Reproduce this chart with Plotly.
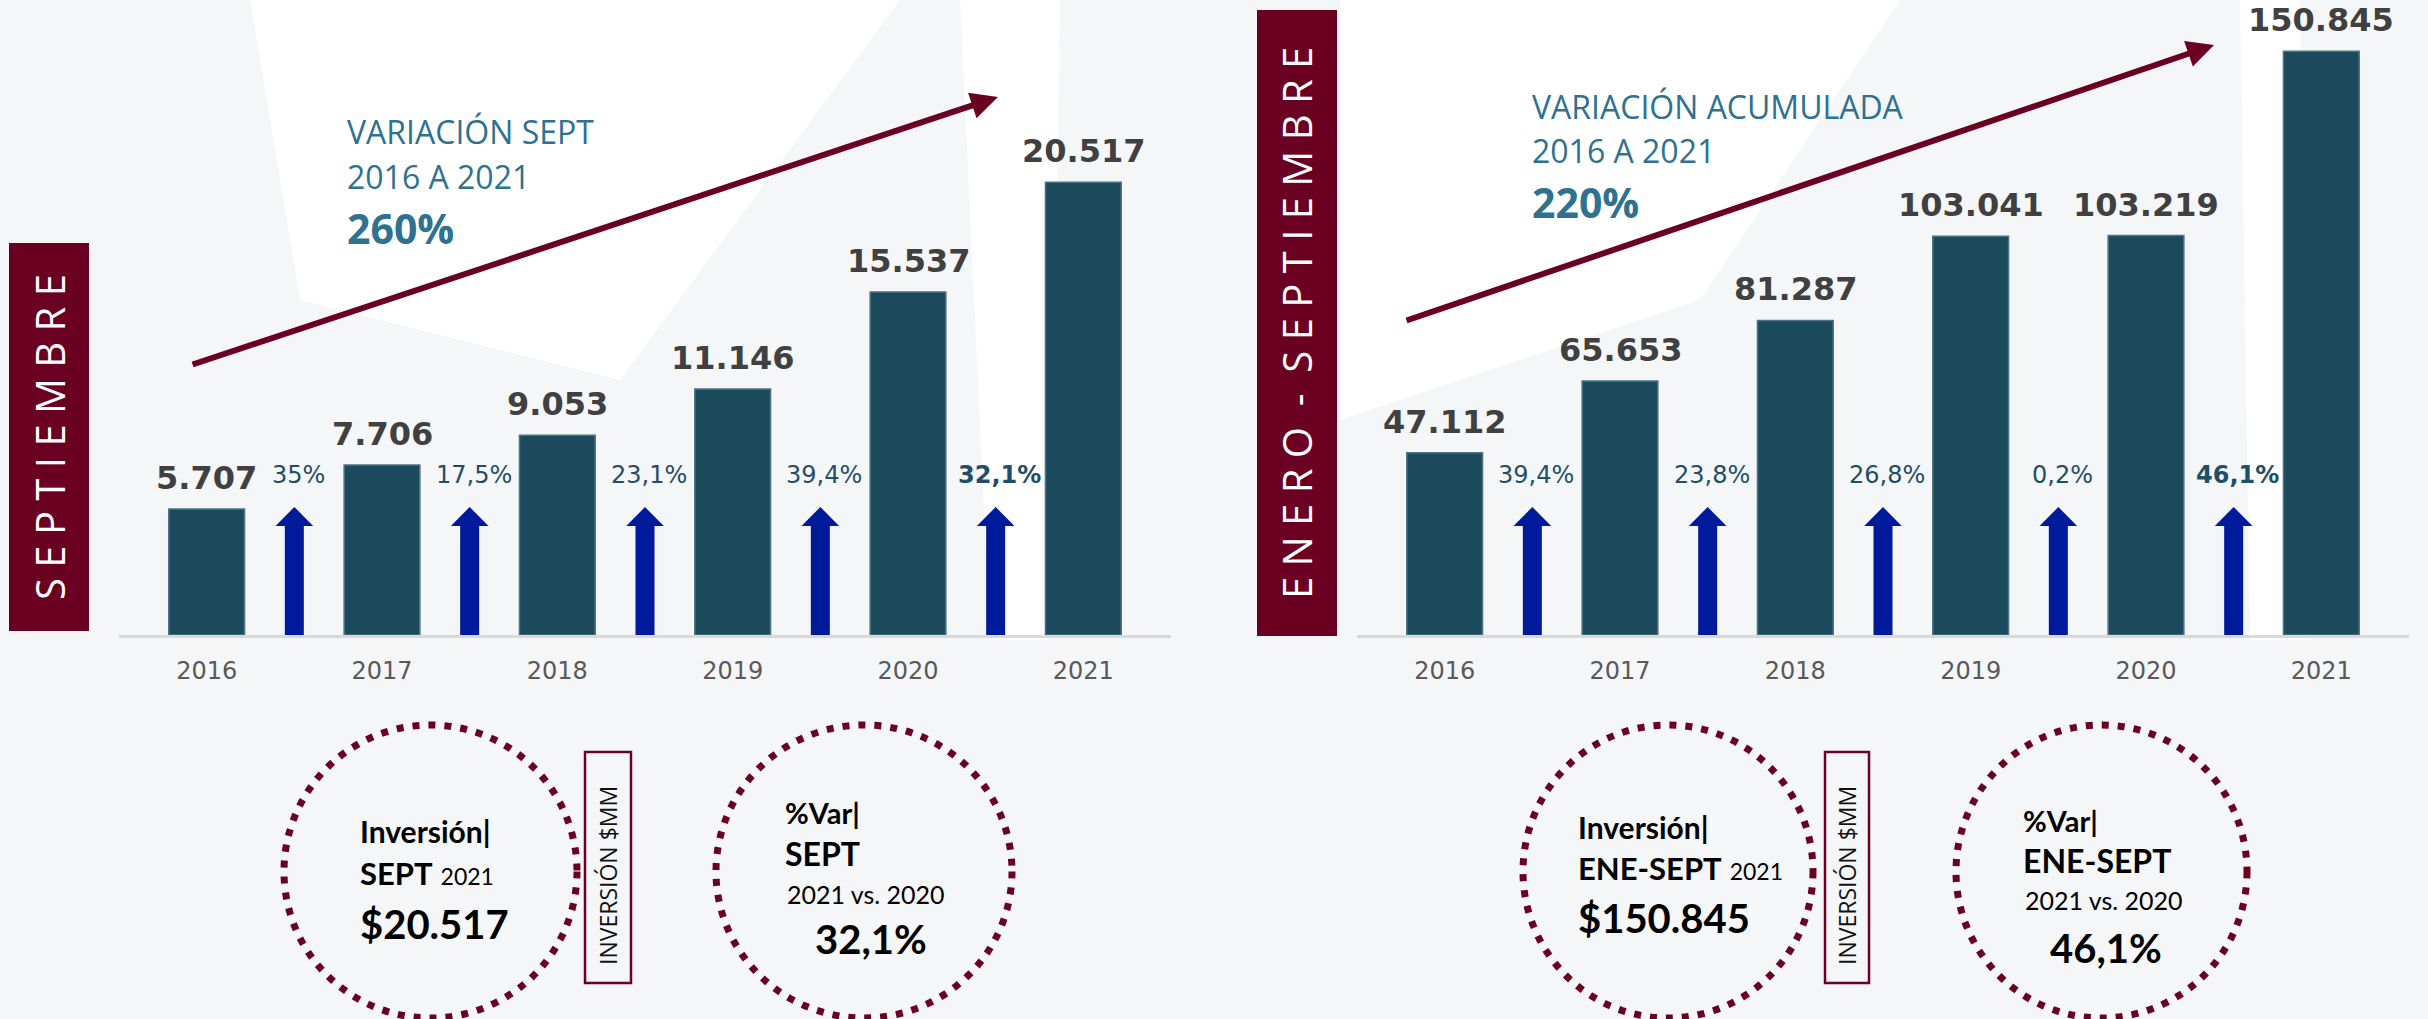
import plotly.graph_objects as go

W, H = 2428, 1019

# ---------------- data ----------------
years = ["2016", "2017", "2018", "2019", "2020", "2021"]
sept_values = [5707, 7706, 9053, 11146, 15537, 20517]
sept_labels = ["5.707", "7.706", "9.053", "11.146", "15.537", "20.517"]
sept_pct = ["35%", "17,5%", "23,1%", "39,4%", "32,1%"]
acum_values = [47112, 65653, 81287, 103041, 103219, 150845]
acum_labels = ["47.112", "65.653", "81.287", "103.041", "103.219", "150.845"]
acum_pct = ["39,4%", "23,8%", "26,8%", "0,2%", "46,1%"]
bold_pct_index = 4

left_title = ["VARIACIÓN SEPT", "2016 A 2021", "260%"]
right_title = ["VARIACIÓN ACUMULADA", "2016 A 2021", "220%"]

# ---------------- styles ----------------
MAROON = "#6A0022"
BAR = "#1B4A5D"
BLUE = "#001A9C"
TEAL = "#2E7190"
LABEL = "#404040"
PCT = "#1F4E66"

def px(x):
    return x / W

def py(y):
    return 1 - y / H

BASE = 635
L_DOM = (119, 1171)
R_DOM = (1357, 2409)
L_YMAX = 28772
R_YMAX = 164083
XRANGE = (-0.5, 5.5)
x_ppu = (L_DOM[1] - L_DOM[0]) / (XRANGE[1] - XRANGE[0])

fig = go.Figure()

fig.add_trace(go.Bar(x=list(range(6)), y=sept_values, width=0.432,
                     marker=dict(color=BAR, line=dict(color="#4d7385", width=1.5)),
                     xaxis="x", yaxis="y", hoverinfo="skip"))
fig.add_trace(go.Bar(x=list(range(6)), y=acum_values, width=0.432,
                     marker=dict(color=BAR, line=dict(color="#4d7385", width=1.5)),
                     xaxis="x2", yaxis="y2", hoverinfo="skip"))

axis_common = dict(range=list(XRANGE), tickmode="array", tickvals=list(range(6)), ticktext=years,
                   showline=True, linecolor="#d9d9d9", linewidth=3, ticks="", showgrid=False,
                   zeroline=False, fixedrange=True, ticklabelstandoff=12,
                   tickfont=dict(family="DejaVu Sans", size=24, color="#595959"))
fig.update_layout(
    width=W, height=H, autosize=False,
    margin=dict(l=0, r=0, t=0, b=0),
    paper_bgcolor="#f5f6f8", plot_bgcolor="rgba(0,0,0,0)",
    showlegend=False, bargap=0,
    xaxis=dict(domain=[px(L_DOM[0]), px(L_DOM[1])], anchor="y", **axis_common),
    xaxis2=dict(domain=[px(R_DOM[0]), px(R_DOM[1])], anchor="y2", **axis_common),
    yaxis=dict(domain=[py(BASE), 1], range=[0, L_YMAX], visible=False, fixedrange=True),
    yaxis2=dict(domain=[py(BASE), 1], range=[0, R_YMAX], visible=False, fixedrange=True, anchor="x2"),
)

shapes = []
annotations = []

# background watermark (white bands)
wm = [
    [(250, 0), (900, 0), (620, 380), (300, 300)],
    [(1340, 0), (1900, 0), (1700, 300), (1340, 420)],
    [(960, 0), (1060, 0), (1050, 640), (990, 640)],
    [(2240, 0), (2300, 0), (2310, 640), (2250, 640)],
]
for poly in wm:
    path = "M " + " L ".join(f"{px(a)},{py(b)}" for a, b in poly) + " Z"
    shapes.append(dict(type="path", path=path, xref="paper", yref="paper",
                       fillcolor="#ffffff", line=dict(width=0), layer="below"))

def panel(values, labels, pcts, xa, ya, ymax, title, title_x, title_ys, arrow_pts):
    y_ppu = BASE / ymax
    for i, (v, lab) in enumerate(zip(values, labels)):
        annotations.append(dict(x=i, y=v, xref=xa, yref=ya, text=f"<b>{lab}</b>", showarrow=False,
                                yanchor="bottom", yshift=10,
                                font=dict(family="DejaVu Sans", size=32, color=LABEL)))
    tip_h, head_h = 128, 109
    shaft_hw, head_hw = 9.5 / x_ppu, 18.8 / x_ppu
    for i, p in enumerate(pcts):
        xc = i + 0.5
        yt, yh = tip_h / y_ppu, head_h / y_ppu
        path = (f"M {xc - shaft_hw},0 L {xc - shaft_hw},{yh} L {xc - head_hw},{yh} L {xc},{yt} "
                f"L {xc + head_hw},{yh} L {xc + shaft_hw},{yh} L {xc + shaft_hw},0 Z")
        shapes.append(dict(type="path", path=path, xref=xa, yref=ya, fillcolor=BLUE, line=dict(width=0)))
        txt = f"<b>{p}</b>" if i == bold_pct_index else p
        annotations.append(dict(x=xc, y=160 / y_ppu, xref=xa, yref=ya, text=txt, showarrow=False,
                                xshift=4, yanchor="middle",
                                font=dict(family="DejaVu Sans", size=24, color=PCT)))
    (x0, y0), (x1, y1) = arrow_pts
    annotations.append(dict(x=x1, y=y1, ax=x0, ay=y0, xref=xa, yref=ya, axref=xa, ayref=ya,
                            text="", showarrow=True, arrowhead=2, arrowsize=0.9, arrowwidth=6,
                            arrowcolor=MAROON, standoff=0, startstandoff=0))
    sizes = [32, 32, 41]
    for j, t in enumerate(title):
        txt = f"<b>{t}</b>" if j == 2 else t
        annotations.append(dict(x=px(title_x), y=py(title_ys[j]), xref="paper", yref="paper",
                                text=txt, showarrow=False, xanchor="left", yanchor="middle",
                                font=dict(family="Open Sans", size=sizes[j], color=TEAL)))

panel(sept_values, sept_labels, sept_pct, "x", "y", L_YMAX, left_title, 345, [132, 176, 228],
      [(-0.089, 12234), (4.513, 24377)])
panel(acum_values, acum_labels, acum_pct, "x2", "y2", R_YMAX, right_title, 1530, [106, 150, 202],
      [(-0.226, 81137), (4.388, 152455)])

# vertical boxes
def vbox(x0, x1, y0, y1, text):
    shapes.append(dict(type="rect", xref="paper", yref="paper", x0=px(x0), x1=px(x1), y0=py(y1), y1=py(y0),
                       fillcolor=MAROON, line=dict(width=0)))
    annotations.append(dict(x=px((x0 + x1) / 2), y=py((y0 + y1) / 2), xref="paper", yref="paper",
                            text=text, textangle=-90, showarrow=False, xanchor="center", yanchor="middle",
                            font=dict(family="Open Sans", size=40, color="white")))

vbox(9, 89, 243, 631, "S E P T I E M B R E")
vbox(1257, 1337, 10, 636, "E N E R O  -  S E P T I E M B R E")

# circles
for (x0, x1) in [(284, 577), (716, 1012), (1523, 1813), (1956, 2247)]:
    shapes.append(dict(type="circle", xref="paper", yref="paper", x0=px(x0), x1=px(x1),
                       y0=py(1018), y1=py(725),
                       line=dict(color=MAROON, width=7, dash="7px,9px")))

# INVERSIÓN $MM boxes
for (x0, x1) in [(585, 631), (1825, 1869)]:
    shapes.append(dict(type="rect", xref="paper", yref="paper", x0=px(x0), x1=px(x1),
                       y0=py(983), y1=py(752), line=dict(color=MAROON, width=2.5), fillcolor="rgba(0,0,0,0)"))
    annotations.append(dict(x=px((x0 + x1) / 2), y=py(876), xref="paper", yref="paper",
                            text="INVERSIÓN $MM", textangle=-90, showarrow=False,
                            xanchor="center", yanchor="middle",
                            font=dict(family="Open Sans", size=23, color="#111111")))

def txt(x, y, text, size, anchor="left"):
    annotations.append(dict(x=px(x), y=py(y), xref="paper", yref="paper", text=text, showarrow=False,
                            xanchor=anchor, yanchor="middle",
                            font=dict(family="Lato", size=size, color="#000000")))

txt(358, 831, "<b>Inversión|</b>", 30)
txt(358, 873, "<b>SEPT</b> <span style='font-size:23px'>2021</span>", 31)
txt(358, 924, "<b>$20.517</b>", 40)
txt(783, 812, "<b>%Var|</b>", 29)
txt(783, 853, "<b>SEPT</b>", 32)
txt(785, 894, "2021 vs. 2020", 25)
txt(871, 939, "<b>32,1%</b>", 40, "center")

txt(1576, 827, "<b>Inversión|</b>", 30)
txt(1576, 868, "<b>ENE-SEPT</b> <span style='font-size:23px'>2021</span>", 31)
txt(1576, 918, "<b>$150.845</b>", 40)
txt(2021, 820, "<b>%Var|</b>", 29)
txt(2021, 860, "<b>ENE-SEPT</b>", 32)
txt(2023, 900, "2021 vs. 2020", 25)
txt(2106, 948, "<b>46,1%</b>", 40, "center")

fig.update_layout(shapes=shapes, annotations=annotations)
fig.write_html("out.html", config={"displayModeBar": False, "staticPlot": True},
               post_script="document.body.style.margin='0';document.body.style.overflow='hidden';")
